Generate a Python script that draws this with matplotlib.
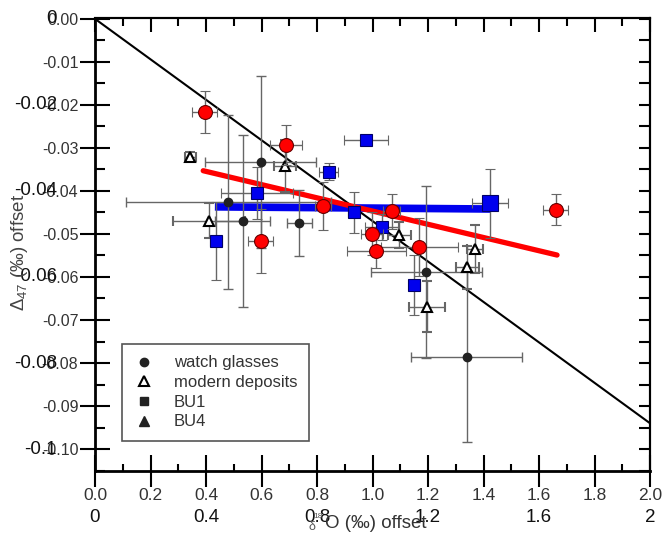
import matplotlib
matplotlib.use('Agg')
import matplotlib.pyplot as plt
from matplotlib.lines import Line2D
from matplotlib.ticker import MultipleLocator

plt.rcParams['font.family'] = ['Liberation Sans', 'DejaVu Sans']
plt.rcParams['mathtext.fontset'] = 'custom'
plt.rcParams['mathtext.rm'] = 'Liberation Sans'
plt.rcParams['mathtext.it'] = 'Liberation Sans:italic'

# red circles
red_x = [0.396, 0.688, 0.598, 0.822, 0.997, 1.013, 1.069, 1.169, 1.661]
red_y = [-0.0216, -0.0293, -0.0516, -0.0435, -0.0499, -0.0539, -0.0447, -0.0530, -0.0444]
red_xerr = [0.045, 0.057, 0.045, 0.03, 0.04, 0.106, 0.03, 0.14, 0.045]
red_yerr = [0.0049, 0.0046, 0.0074, 0.0056, 0.005, 0.004, 0.0041, 0.0067, 0.0036]

# blue squares
blue_x = [0.977, 0.843, 0.583, 0.436, 0.933, 1.033, 1.150]
blue_y = [-0.0281, -0.0355, -0.0405, -0.0516, -0.0450, -0.0483, -0.0619]
blue_xerr = [0.079, 0.034, 0.13, 0.02, 0.02, 0.06, 0.02]
blue_yerr = [0.001, 0.002, 0.006, 0.009, 0.0047, 0.003, 0.007]
big_x = [1.423]
big_y = [-0.0429]
big_xerr = [0.065]
big_yerr = [0.0081]

# watch glasses (black dots)
dot_x = [0.598, 0.48, 0.532, 0.736, 1.193, 1.339]
dot_y = [-0.0332, -0.0426, -0.0469, -0.0475, -0.0588, -0.0785]
dot_xerr = [0.2, 0.37, 0.1, 0.045, 0.2, 0.2]
dot_yerr = [0.02, 0.0203, 0.020, 0.0077, 0.02, 0.0198]

# modern deposits (open triangles)
tri_x = [0.344, 0.685, 0.412, 1.097, 1.369, 1.342, 1.195]
tri_y = [-0.032, -0.0342, -0.0469, -0.0503, -0.0535, -0.0577, -0.0669]
tri_xerr = [0.02, 0.04, 0.13, 0.04, 0.03, 0.042, 0.065]
tri_yerr = [0.001, 0.006, 0.004, 0.003, 0.0056, 0.005, 0.006]

# lines
black_line_x = [0, 2]
black_line_y = [0, -0.094]
red_line_x = [0.39, 1.665]
red_line_y = [-0.0353, -0.0549]
blue_line_x = [0.432, 1.424]
blue_line_y = [-0.0437, -0.0442]

# tick labels (main set and the overlapping second set)
x_ticks = [0.0, 0.2, 0.4, 0.6, 0.8, 1.0, 1.2, 1.4, 1.6, 1.8, 2.0]
x_labels = ['0.0', '0.2', '0.4', '0.6', '0.8', '1.0', '1.2', '1.4', '1.6', '1.8', '2.0']
y_ticks = [0, -0.01, -0.02, -0.03, -0.04, -0.05, -0.06, -0.07, -0.08, -0.09, -0.10]
y_labels = ['0.00', '-0.01', '-0.02', '-0.03', '-0.04', '-0.05', '-0.06',
            '-0.07', '-0.08', '-0.09', '-0.10']
x2_ticks = [0, 0.4, 0.8, 1.2, 1.6, 2]
x2_labels = ['0', '0.4', '0.8', '1.2', '1.6', '2']
y2_ticks = [0, -0.02, -0.04, -0.06, -0.08, -0.1]
y2_labels = ['0', '-0.02', '-0.04', '-0.06', '-0.08', '-0.1']

legend_labels = ['watch glasses', 'modern deposits', 'BU1', 'BU4']

fig = plt.figure(figsize=(6.62, 5.39), dpi=100)
ax = fig.add_axes([95 / 662, 1 - 471 / 539, 555 / 662, 453 / 539])
ax.set_xlim(0, 2)
ax.set_ylim(-0.1051, 0.0002)

eb = dict(ecolor='#666666', elinewidth=1, capsize=3.5, capthick=1, linestyle='none')

ax.plot(black_line_x, black_line_y, color='black', lw=1.5, zorder=2)
ax.plot(blue_line_x, blue_line_y, color='#0000ee', lw=5.5, solid_capstyle='butt', zorder=3)
ax.plot(red_line_x, red_line_y, color='#ff0000', lw=3.8, solid_capstyle='round', zorder=3.5)

ax.errorbar(dot_x, dot_y, xerr=dot_xerr, yerr=dot_yerr, fmt='o', ms=6,
            mfc='#222222', mec='#222222', zorder=4, **eb)
ax.errorbar(tri_x, tri_y, xerr=tri_xerr, yerr=tri_yerr, fmt='^', ms=7,
            mfc='white', mec='black', mew=1.5, zorder=4, **eb)
ax.errorbar(blue_x, blue_y, xerr=blue_xerr, yerr=blue_yerr, fmt='s', ms=8.5,
            mfc='#0000ee', mec='#000066', mew=0.8, zorder=4, **eb)
ax.errorbar(big_x, big_y, xerr=big_xerr, yerr=big_yerr, fmt='s', ms=11,
            mfc='#0000ee', mec='#000066', mew=0.8, zorder=4, **eb)
ax.errorbar(red_x, red_y, xerr=red_xerr, yerr=red_yerr, fmt='o', ms=10,
            mfc='#ff0000', mec='#660000', mew=0.8, zorder=5, **eb)

# axes styling
ax.spines['left'].set_linewidth(2)
ax.spines['bottom'].set_linewidth(2)
ax.spines['top'].set_linewidth(1.5)
ax.spines['right'].set_linewidth(1.5)
ax.set_xticks(x_ticks)
ax.set_xticklabels(x_labels)
ax.set_yticks(y_ticks)
ax.set_yticklabels(y_labels)
ax.xaxis.set_minor_locator(MultipleLocator(0.1))
ax.yaxis.set_minor_locator(MultipleLocator(0.005))
ax.tick_params(axis='x', which='major', direction='inout', length=23, width=1.5,
               labelsize=12.5, labelcolor='#333333', pad=1)
ax.tick_params(axis='x', which='minor', direction='in', length=5, width=1.5)
ax.tick_params(axis='y', which='major', direction='inout', length=22, width=1.5,
               labelsize=11.5, labelcolor='#333333', pad=1)
ax.tick_params(axis='y', which='minor', direction='in', length=7, width=1.5)

# top and right ticks point inward only
top = ax.secondary_xaxis('top')
top.set_xticks(x_ticks)
top.xaxis.set_minor_locator(MultipleLocator(0.1))
top.tick_params(which='major', direction='in', length=10, width=1.5, labeltop=False)
top.tick_params(which='minor', direction='in', length=6, width=1.5)
top.spines['top'].set_linewidth(1.5)
right = ax.secondary_yaxis('right')
right.set_yticks(y_ticks)
right.yaxis.set_minor_locator(MultipleLocator(0.005))
right.tick_params(which='major', direction='in', length=8, width=1.5, labelright=False)
right.tick_params(which='minor', direction='in', length=8, width=1.5)
right.spines['right'].set_linewidth(1.5)

for v, lab in zip(x2_ticks, x2_labels):
    ax.annotate(lab, xy=(v, 0), xycoords=('data', 'axes fraction'),
                xytext=(0, -47), textcoords='offset pixels',
                ha='center', va='center', fontsize=13.5, color='#111111')
for v, lab in zip(y2_ticks, y2_labels):
    ax.annotate(lab, xy=(0, v), xycoords=('axes fraction', 'data'),
                xytext=(-38, 0), textcoords='offset pixels',
                ha='right', va='center', fontsize=13.5, color='#111111')

# axis titles
fig.text(325 / 662, 1 - 523 / 539, 'O (‰) offset', ha='left', va='center',
         fontsize=13.5, color='#333333')
fig.text(312 / 662, 1 - 527 / 539, 'δ', ha='center', va='center',
         fontsize=9, color='#555555')
fig.text(318 / 662, 1 - 516 / 539, '18', ha='center', va='center',
         fontsize=6, color='#555555')
fig.text(20 / 662, 1 - 252 / 539, r'$\Delta_{47}$ (‰) offset', rotation=90,
         ha='center', va='center', fontsize=13.5, color='#444444')

# legend
handles = [
    Line2D([], [], marker='o', ls='none', ms=6, mfc='#222222', mec='#222222'),
    Line2D([], [], marker='^', ls='none', ms=7, mfc='white', mec='black', mew=1.5),
    Line2D([], [], marker='s', ls='none', ms=6, mfc='#222222', mec='#222222'),
    Line2D([], [], marker='^', ls='none', ms=7, mfc='#222222', mec='#222222'),
]
leg = ax.legend(handles, legend_labels, loc='lower left',
                bbox_to_anchor=((122 - 95) / 555, 30 / 453), borderaxespad=0,
                fontsize=12, fancybox=False, framealpha=1, edgecolor='#555555',
                handlelength=1.2, handletextpad=1.2, borderpad=0.7,
                labelspacing=0.28)
leg.get_frame().set_linewidth(1.2)
for t in leg.get_texts():
    t.set_color('#333333')

fig.savefig('out.png', dpi=100)
